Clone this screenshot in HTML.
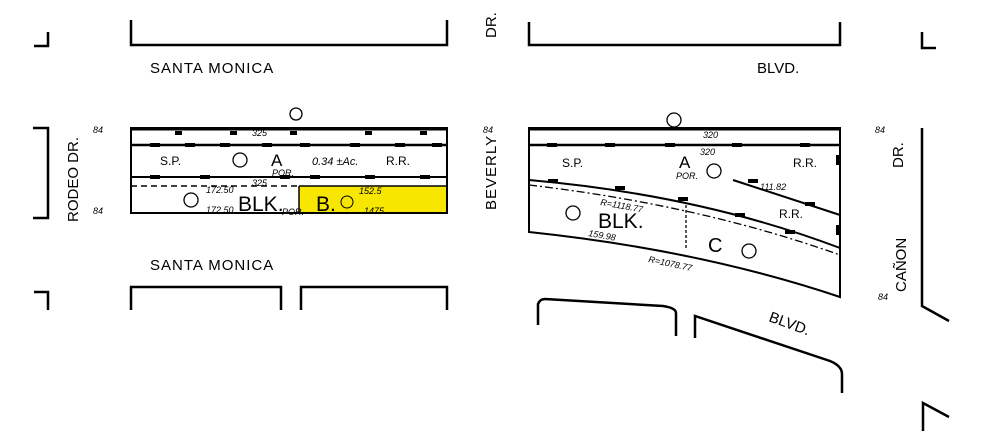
<!DOCTYPE html>
<html><head><meta charset="utf-8"><style>
html,body{margin:0;padding:0;background:#fff;}
svg{display:block;font-family:"Liberation Sans",sans-serif;}
</style></head><body>
<svg width="984" height="440" viewBox="0 0 984 440" xmlns="http://www.w3.org/2000/svg">
<g fill="none" stroke="#000" stroke-width="2.5">
<path d="M34 46 H48 V32"/>
<path d="M33 128 H48 V218 H33"/>
<path d="M34 292 H48 V310"/>
<path d="M922 32 V48 H936"/>
<path d="M922 128 V306 L949 321"/>
<path d="M923 431 V403 L949 417"/>
<path d="M131 20 V45 H447 V20"/>
<path d="M529 22 V45 H840 V22"/>
<path d="M131 310 V287 H281 V310"/>
<path d="M301 310 V287 H447 V310"/>
<path d="M538 325 V304 Q540 299 545 299 L663 306 Q676 308 676 313 V336"/>
<path d="M695 338 V316 L830 361 Q842 366 842 374 V393"/>
</g>
<rect x="299" y="186" width="148" height="27" fill="#f7e600"/>
<g fill="none" stroke="#000">
<rect x="131" y="128" width="316" height="85" stroke-width="2"/>
<line x1="131" y1="129" x2="447" y2="129" stroke-width="3"/>
<line x1="131" y1="145" x2="447" y2="145" stroke-width="2.5"/>
<line x1="131" y1="177" x2="447" y2="177" stroke-width="2"/>
<line x1="131" y1="186" x2="299" y2="186" stroke-width="1.5" stroke-dasharray="6 4"/>
<line x1="299" y1="186" x2="447" y2="186" stroke-width="1.5"/>
<line x1="299" y1="186" x2="299" y2="213" stroke-width="1.5"/>
<circle cx="191" cy="200" r="7" stroke-width="1.3"/>
<circle cx="240" cy="160" r="7" stroke-width="1.3"/>
<circle cx="296" cy="114" r="6" stroke-width="1.3"/>
<circle cx="347" cy="202" r="6" stroke-width="1"/>
</g>
<g fill="#000">
<rect x="150" y="143" width="10" height="4"/><rect x="185" y="143" width="10" height="4"/><rect x="220" y="143" width="10" height="4"/><rect x="262" y="143" width="10" height="4"/><rect x="300" y="143" width="10" height="4"/><rect x="350" y="143" width="10" height="4"/><rect x="395" y="143" width="10" height="4"/><rect x="432" y="143" width="10" height="4"/>
<rect x="150" y="175" width="10" height="4"/><rect x="200" y="175" width="10" height="4"/><rect x="280" y="175" width="10" height="4"/><rect x="310" y="175" width="10" height="4"/><rect x="365" y="175" width="10" height="4"/><rect x="420" y="175" width="10" height="4"/>
<rect x="175" y="131" width="7" height="4"/><rect x="230" y="131" width="7" height="4"/><rect x="290" y="131" width="7" height="4"/><rect x="365" y="131" width="7" height="4"/><rect x="420" y="131" width="7" height="4"/>
</g>
<g fill="none" stroke="#000">
<path d="M529 128 H840 V297 Q700 250 529 232 Z" stroke-width="2"/>
<line x1="529" y1="129" x2="840" y2="129" stroke-width="3"/>
<line x1="529" y1="145" x2="840" y2="145" stroke-width="2.5"/>
<path d="M529 180 Q700 195 840 248" stroke-width="2"/>
<path d="M733 180 L840 215" stroke-width="2"/>
<path d="M529 185 Q700 205 840 255" stroke-width="1.3" stroke-dasharray="8 3 2 3"/>
<line x1="686" y1="205" x2="686" y2="250" stroke-width="1.3" stroke-dasharray="3 2"/>
<circle cx="573" cy="213" r="7" stroke-width="1.3"/>
<circle cx="749" cy="251" r="7" stroke-width="1.3"/>
<circle cx="714" cy="171" r="7" stroke-width="1.3"/>
<circle cx="674" cy="120" r="7" stroke-width="1.3"/>
</g>
<g fill="#000">
<rect x="547" y="143" width="10" height="4"/><rect x="605" y="143" width="10" height="4"/><rect x="665" y="143" width="10" height="4"/><rect x="732" y="143" width="10" height="4"/><rect x="800" y="143" width="10" height="4"/>
<rect x="548" y="179" width="10" height="4"/><rect x="615" y="186" width="10" height="4"/><rect x="678" y="197" width="10" height="4"/><rect x="735" y="213" width="10" height="4"/><rect x="785" y="230" width="10" height="4"/>
<rect x="748" y="179" width="10" height="4"/><rect x="805" y="202" width="10" height="4"/>
<rect x="836" y="155" width="5" height="10"/><rect x="836" y="225" width="5" height="10"/>
</g>
<g fill="#000" font-size="15">
<text x="150" y="73" letter-spacing="1">SANTA MONICA</text>
<text x="150" y="270" letter-spacing="1">SANTA MONICA</text>
<text x="757" y="73">BLVD.</text>
<text x="768" y="321" transform="rotate(20 768 321)">BLVD.</text>
<text transform="translate(78 222) rotate(-90)">RODEO DR.</text>
<text transform="translate(496 210) rotate(-90)" letter-spacing="1">BEVERLY</text>
<text transform="translate(496 38) rotate(-90)">DR.</text>
<text transform="translate(903 168) rotate(-90)">DR.</text>
<text transform="translate(906 292) rotate(-90)">CAÑON</text>
<text x="238" y="211" font-size="21">BLK.</text>
<text x="316" y="211" font-size="21">B.</text>
<text x="598" y="228" font-size="21">BLK.</text>
<text x="708" y="252" font-size="20">C</text>
<text x="160" y="165" font-size="12">S.P.</text>
<text x="271" y="166" font-size="17">A</text>
<text x="312" y="165" font-size="11" font-style="italic">0.34 ±Ac.</text>
<text x="386" y="165" font-size="12">R.R.</text>
<text x="562" y="167" font-size="12">S.P.</text>
<text x="679" y="168" font-size="17">A</text>
<text x="793" y="167" font-size="12">R.R.</text>
<text x="779" y="218" font-size="12">R.R.</text>
</g>
<g fill="#000" font-size="9" font-style="italic">
<text x="252" y="136">325</text><text x="252" y="186">325</text>
<text x="206" y="193">172.50</text><text x="206" y="213">172.50</text>
<text x="359" y="194">152.5</text><text x="364" y="214">1475</text>
<text x="703" y="138">320</text><text x="700" y="155">320</text>
<text x="282" y="215">POR.</text><text x="272" y="176">POR.</text><text x="676" y="179">POR.</text>
<text x="93" y="133">84</text><text x="93" y="214">84</text>
<text x="483" y="133">84</text><text x="875" y="133">84</text><text x="878" y="300">84</text>
<text x="588" y="236" transform="rotate(10 588 236)">159.98</text>
<text x="648" y="262" transform="rotate(12 648 262)">R=1078.77</text>
<text x="600" y="205" transform="rotate(10 600 205)">R=1118.77</text>
<text x="760" y="190">111.82</text>
</g>
</svg>
</body></html>
